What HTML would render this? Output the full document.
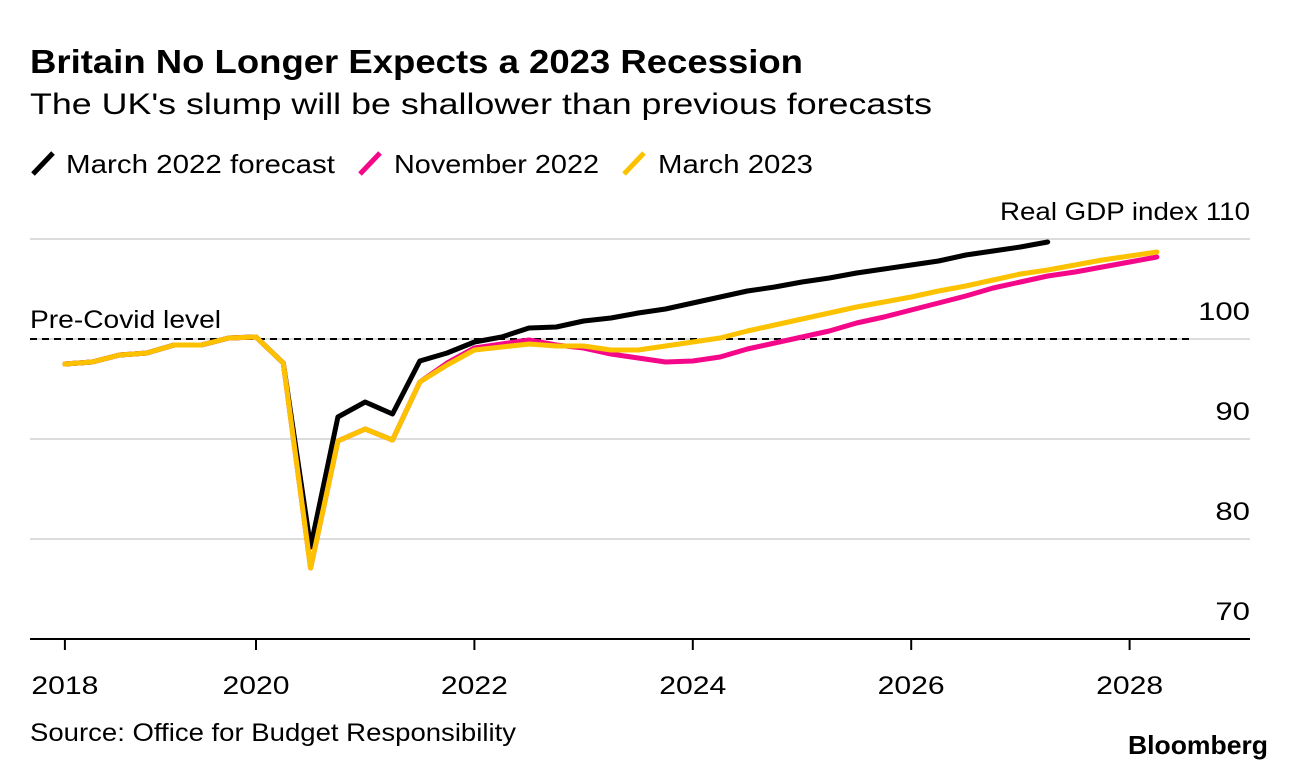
<!DOCTYPE html>
<html><head><meta charset="utf-8">
<style>
body{margin:0;background:#fff;}
svg text{font-family:"Liberation Sans",sans-serif;fill:#000;}
</style></head>
<body>
<svg width="1296" height="772" viewBox="0 0 1296 772" xmlns="http://www.w3.org/2000/svg">
<text x="30" y="73" font-size="33" font-weight="bold" textLength="773" lengthAdjust="spacingAndGlyphs">Britain No Longer Expects a 2023 Recession</text>
<text x="30" y="114" font-size="30" textLength="902" lengthAdjust="spacingAndGlyphs">The UK's slump will be shallower than previous forecasts</text>
<g>
  <line x1="33" y1="174" x2="53" y2="153" stroke="#000" stroke-width="5"/>
  <text x="66" y="173" font-size="26" textLength="269" lengthAdjust="spacingAndGlyphs">March 2022 forecast</text>
  <line x1="360" y1="174" x2="380" y2="153" stroke="#f5078a" stroke-width="5"/>
  <text x="394" y="173" font-size="26" textLength="205" lengthAdjust="spacingAndGlyphs">November 2022</text>
  <line x1="624" y1="174" x2="644" y2="153" stroke="#fcc200" stroke-width="5"/>
  <text x="658" y="173" font-size="26" textLength="155" lengthAdjust="spacingAndGlyphs">March 2023</text>
</g>
<g id="grid"></g>
<g id="series"></g>
<g id="xaxis"></g>
<text x="1000" y="220" font-size="25" textLength="250" lengthAdjust="spacingAndGlyphs">Real GDP index 110</text>
<text x="30" y="328" font-size="25" textLength="191" lengthAdjust="spacingAndGlyphs">Pre-Covid level</text>
<text x="30" y="741" font-size="25" textLength="486" lengthAdjust="spacingAndGlyphs">Source: Office for Budget Responsibility</text>
<text x="1128" y="754" font-size="26" font-weight="bold" textLength="140" lengthAdjust="spacingAndGlyphs">Bloomberg</text>
</svg>
<script>
const startDate = 2018.25;
const march2022 = [97.5,97.7,98.4,98.6,99.4,99.4,100.1,100.2,97.6,79.2,92.2,93.7,92.5,97.8,98.6,99.7,100.2,101.1,101.2,101.8,102.1,102.6,103.0,103.6,104.2,104.8,105.2,105.7,106.1,106.6,107.0,107.4,107.8,108.4,108.8,109.2,109.7];
const november2022 = [97.5,97.7,98.4,98.6,99.4,99.4,100.1,100.2,97.6,77.1,89.8,91.0,89.9,95.7,97.6,99.1,99.5,99.9,99.4,99.1,98.5,98.1,97.7,97.8,98.2,99.0,99.6,100.2,100.8,101.6,102.2,102.9,103.6,104.3,105.1,105.7,106.3,106.7,107.2,107.7,108.2];
const march2023 = [97.5,97.7,98.4,98.6,99.4,99.4,100.1,100.2,97.6,77.1,89.8,91.0,89.9,95.7,97.4,98.9,99.2,99.5,99.3,99.3,98.9,98.9,99.3,99.7,100.1,100.8,101.4,102.0,102.6,103.2,103.7,104.2,104.8,105.3,105.9,106.5,106.9,107.4,107.9,108.3,108.7];
const yTicks = [110,100,90,80,70];
const yTickLabels = ["","100","90","80","70"];
const xTickDates = [2018.25,2020,2022,2024,2026,2028];
const xTickLabels = ["2018","2020","2022","2024","2026","2028"];
const preCovid = 100;

const NS="http://www.w3.org/2000/svg";
function x(t){return 256+(t-2020)*109.2;}
function y(v){return 339-(v-100)*10;}
function mk(tag,attrs,parent){const e=document.createElementNS(NS,tag);for(const k in attrs)e.setAttribute(k,attrs[k]);parent.appendChild(e);return e;}
const grid=document.getElementById('grid'),series=document.getElementById('series'),xa=document.getElementById('xaxis');
yTicks.forEach((v,i)=>{
  if(v!==yTicks[yTicks.length-1]){
    const l=mk('line',{x1:30,x2:1250,y1:y(v),y2:y(v),stroke:'#dcdcdc','stroke-width':2},grid);
    
    
  }
  if(yTickLabels[i]){
    const t=mk('text',{x:1250,y:y(v)-19,'font-size':25,'text-anchor':'end',textLength:yTickLabels[i].length*17.3,lengthAdjust:'spacingAndGlyphs'},grid);
    t.textContent=yTickLabels[i];
    
    
  }
});
const dl=mk('line',{x1:30,x2:1190,y1:y(preCovid),y2:y(preCovid),stroke:'#000','stroke-width':2,'stroke-dasharray':'7,5'},grid);


const ax=mk('line',{x1:30,x2:1250,y1:y(70),y2:y(70),stroke:'#000','stroke-width':2},xa);


xTickDates.forEach((d,i)=>{
  const tk=mk('line',{x1:x(d),x2:x(d),y1:y(70),y2:y(70)+11,stroke:'#000','stroke-width':2},xa);
  
  
  const t=mk('text',{x:x(d),y:y(70)+55,'font-size':25,'text-anchor':'middle',textLength:67,lengthAdjust:'spacingAndGlyphs'},xa);
  t.textContent=xTickLabels[i];
  
  
});
function draw(vals,color,name){
  const pts=vals.map((v,i)=>x(startDate+i*0.25).toFixed(1)+','+y(v).toFixed(1)).join(' ');
  const p=mk('polyline',{points:pts,fill:'none',stroke:color,'stroke-width':5,'stroke-linejoin':'round','stroke-linecap':'round'},series);
  
  
}
draw(march2022,'#000','line-march-2022');
draw(november2022,'#f5078a','line-november-2022');
draw(march2023,'#fcc200','line-march-2023');
</script>
</body></html>
